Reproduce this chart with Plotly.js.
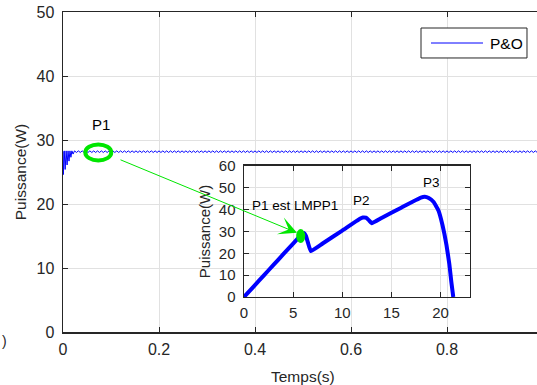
<!DOCTYPE html>
<html>
<head>
<meta charset="utf-8">
<script src="https://cdn.plot.ly/plotly-3.0.1.min.js"></script>
<style>html,body{margin:0;padding:0;background:#fff;}#chart{width:537px;height:385px;}</style>
</head>
<body>
<div id="chart"></div>
<script>
// ---- Main series: P&O power vs time ----
const seriesName = 'P&O';
const timeS = [0,0.0008,0.0025,0.0045,0.0065,0.0085,0.0105,0.0125,0.0145,0.0165,0.0185,0.021,0.024,
0.028,0.032,0.036,0.04,0.044,0.048,0.052,0.056,0.06,0.064,0.068,0.072,0.076,0.08,0.084,0.088,0.092,0.096,
0.1,0.104,0.108,0.112,0.116,0.12,0.124,0.128,0.132,0.136,0.14,0.144,0.148,0.152,0.156,0.16,0.164,0.168,0.172,0.176,0.18,0.184,0.188,0.192,0.196,
0.2,0.204,0.208,0.212,0.216,0.22,0.224,0.228,0.232,0.236,0.24,0.244,0.248,0.252,0.256,0.26,0.264,0.268,0.272,0.276,0.28,0.284,0.288,0.292,0.296,
0.3,0.304,0.308,0.312,0.316,0.32,0.324,0.328,0.332,0.336,0.34,0.344,0.348,0.352,0.356,0.36,0.364,0.368,0.372,0.376,0.38,0.384,0.388,0.392,0.396,
0.4,0.404,0.408,0.412,0.416,0.42,0.424,0.428,0.432,0.436,0.44,0.444,0.448,0.452,0.456,0.46,0.464,0.468,0.472,0.476,0.48,0.484,0.488,0.492,0.496,
0.5,0.504,0.508,0.512,0.516,0.52,0.524,0.528,0.532,0.536,0.54,0.544,0.548,0.552,0.556,0.56,0.564,0.568,0.572,0.576,0.58,0.584,0.588,0.592,0.596,
0.6,0.604,0.608,0.612,0.616,0.62,0.624,0.628,0.632,0.636,0.64,0.644,0.648,0.652,0.656,0.66,0.664,0.668,0.672,0.676,0.68,0.684,0.688,0.692,0.696,
0.7,0.704,0.708,0.712,0.716,0.72,0.724,0.728,0.732,0.736,0.74,0.744,0.748,0.752,0.756,0.76,0.764,0.768,0.772,0.776,0.78,0.784,0.788,0.792,0.796,
0.8,0.804,0.808,0.812,0.816,0.82,0.824,0.828,0.832,0.836,0.84,0.844,0.848,0.852,0.856,0.86,0.864,0.868,0.872,0.876,0.88,0.884,0.888,0.892,0.896,
0.9,0.904,0.908,0.912,0.916,0.92,0.924,0.928,0.932,0.936,0.94,0.944,0.948,0.952,0.956,0.96,0.964,0.968,0.972,0.976,0.98,0.984,0.988];
const powerW = [28.2,24.6,28.3,25.4,28.3,26.1,28.3,26.7,28.3,27.3,28.3,27.8,28.3,
28.05,28.3,28.05,28.3,28.05,28.3,28.05,28.3,28.05,28.3,28.05,28.3,28.05,28.3,28.05,28.3,28.05,28.3,
28.05,28.3,28.05,28.3,28.05,28.3,28.05,28.3,28.05,28.3,28.05,28.3,28.05,28.3,28.05,28.3,28.05,28.3,28.05,28.3,28.05,28.3,28.05,28.3,28.05,
28.3,28.05,28.3,28.05,28.3,28.05,28.3,28.05,28.3,28.05,28.3,28.05,28.3,28.05,28.3,28.05,28.3,28.05,28.3,28.05,28.3,28.05,28.3,28.05,28.3,
28.05,28.3,28.05,28.3,28.05,28.3,28.05,28.3,28.05,28.3,28.05,28.3,28.05,28.3,28.05,28.3,28.05,28.3,28.05,28.3,28.05,28.3,28.05,28.3,28.05,
28.3,28.05,28.3,28.05,28.3,28.05,28.3,28.05,28.3,28.05,28.3,28.05,28.3,28.05,28.3,28.05,28.3,28.05,28.3,28.05,28.3,28.05,28.3,28.05,28.3,
28.05,28.3,28.05,28.3,28.05,28.3,28.05,28.3,28.05,28.3,28.05,28.3,28.05,28.3,28.05,28.3,28.05,28.3,28.05,28.3,28.05,28.3,28.05,28.3,28.05,
28.3,28.05,28.3,28.05,28.3,28.05,28.3,28.05,28.3,28.05,28.3,28.05,28.3,28.05,28.3,28.05,28.3,28.05,28.3,28.05,28.3,28.05,28.3,28.05,28.3,
28.05,28.3,28.05,28.3,28.05,28.3,28.05,28.3,28.05,28.3,28.05,28.3,28.05,28.3,28.05,28.3,28.05,28.3,28.05,28.3,28.05,28.3,28.05,28.3,28.05,
28.3,28.05,28.3,28.05,28.3,28.05,28.3,28.05,28.3,28.05,28.3,28.05,28.3,28.05,28.3,28.05,28.3,28.05,28.3,28.05,28.3,28.05,28.3,28.05,28.3,
28.05,28.3,28.05,28.3,28.05,28.3,28.05,28.3,28.05,28.3,28.05,28.3,28.05,28.3,28.05,28.3,28.05,28.3,28.05,28.3,28.05,28.3,28.05];

// ---- Inset: P-V curve ----
const voltageV = [0,1,2,3,4,5,5.6,5.9,6.1,6.3,6.5,6.8,8,10,11.8,12.1,12.4,12.7,13.0,14,16,18,18.4,18.8,19.3,19.8,20.2,20.6,20.9,21.1,21.3];
const curveP  = [0,4.9,9.8,14.7,19.6,24.4,27.4,28.8,29.3,28.0,25.0,21.0,24.5,30.4,35.8,36.4,36.3,35.2,33.8,36.2,40.9,45.5,45.9,45.3,43.5,39.5,33,24,15,7,0];

// ---- Tick labels ----
const mainXTicks = [0,0.2,0.4,0.6,0.8];
const mainXLabels = ['0','0.2','0.4','0.6','0.8'];
const mainYTicks = [0,10,20,30,40,50];
const insetXTicks = [0,5,10,15,20];
const insetYTicks = [0,10,20,30,40,50,60];

// ---- Marked points ----
const p1Main = {t: 0.0735, p: 28.05};
const p1Curve = {v: 5.77, p: 27.9};
const arrowTail = {t: 0.1167, p: 27.0};
const arrowHead = {t: 0.4875, p: 15.5};
const insetLabels = [
  {text: 'P1 est LMPP1', v: 5.19, p: 42.1},
  {text: 'P2', v: 11.95, p: 44.4},
  {text: 'P3', v: 19.1, p: 52.4}
];

const FONT = 'Liberation Sans, Arial, sans-serif';
const AX = '#262626';
const GRID = '#e1e1e1';
const GREEN = '#00e600';
const BLUE = '#0000ff';

const traces = [
  {x: timeS, y: powerW, type: 'scatter', mode: 'lines', name: seriesName,
   line: {color: BLUE, width: 1}, xaxis: 'x', yaxis: 'y', showlegend: false},
  {x: voltageV, y: curveP, type: 'scatter', mode: 'lines', name: 'P-V',
   line: {color: BLUE, width: 4, shape: 'spline', smoothing: 0.3}, xaxis: 'x2', yaxis: 'y2', showlegend: false}
];

const annotations = [
  {xref: 'x', yref: 'y', x: p1Main.t + 0.006, y: 32.4, text: 'P1', showarrow: false,
   font: {family: FONT, size: 15, color: '#000'}},
  {xref: 'x', yref: 'y', x: arrowHead.t, y: arrowHead.p, axref: 'x', ayref: 'y',
   ax: arrowTail.t, ay: arrowTail.p, text: '', showarrow: true,
   arrowcolor: GREEN, arrowwidth: 1, arrowhead: 3, arrowsize: 3},
  {xref: 'x', yref: 'paper', x: 0.5, y: -0.1375, yanchor: 'middle', text: 'Temps(s)', showarrow: false,
   font: {family: FONT, size: 15.5, color: AX}},
  {xref: 'paper', yref: 'paper', x: (0 - 63) / 474, y: (332 - 341) / 320, xanchor: 'left', yanchor: 'middle',
   text: ')', showarrow: false, font: {family: FONT, size: 14, color: AX}},
  // legend text
  {xref: 'paper', yref: 'paper', x: 0.8966, y: 0.9031, xanchor: 'left', yanchor: 'middle',
   text: seriesName, showarrow: false, font: {family: FONT, size: 15.5, color: '#000'}}
];
insetLabels.forEach(l => annotations.push({xref: 'x2', yref: 'y2', x: l.v, y: l.p, text: l.text,
  showarrow: false, font: {family: FONT, size: 13.5, color: '#000'}}));

const shapes = [
  {type: 'circle', xref: 'x', yref: 'y', x0: p1Main.t - 0.027, x1: p1Main.t + 0.027,
   y0: p1Main.p - 1.25, y1: p1Main.p + 1.25, line: {color: GREEN, width: 4}},
  {type: 'circle', xref: 'x2', yref: 'y2', x0: p1Curve.v - 0.46, x1: p1Curve.v + 0.46,
   y0: p1Curve.p - 3.2, y1: p1Curve.p + 3.2, fillcolor: GREEN, line: {width: 0}},
  // legend box and sample
  {type: 'rect', xref: 'paper', yref: 'paper', x0: 0.7553, x1: 0.9789, y0: 0.8563, y1: 0.95,
   fillcolor: '#fff', line: {color: AX, width: 1}, layer: 'above'},
  {type: 'line', xref: 'paper', yref: 'paper', x0: 0.7764, x1: 0.8861, y0: 0.9031, y1: 0.9031,
   line: {color: BLUE, width: 1}, layer: 'above'}
];

const axCommon = {showline: true, linecolor: AX, linewidth: 1.5, ticks: 'inside', ticklen: 5,
  tickcolor: AX, tickwidth: 1, showgrid: true, gridcolor: GRID, gridwidth: 1, zeroline: false,
  tickfont: {family: FONT, size: 16, color: AX}};

const layout = {
  width: 537, height: 385,
  margin: {l: 63, r: 0, t: 12, b: 53},
  paper_bgcolor: '#fff', plot_bgcolor: 'rgba(0,0,0,0)',
  showlegend: false,
  xaxis: Object.assign({}, axCommon, {range: [0, 0.9875], tickvals: mainXTicks, ticktext: mainXLabels,
    mirror: 'ticks', domain: [0, 1], anchor: 'y', ticklabelstandoff: 2}),
  yaxis: Object.assign({}, axCommon, {range: [0, 50], tickvals: mainYTicks, mirror: false,
    domain: [0, 1], anchor: 'x', ticklabelstandoff: 4,
    title: {text: 'Puissance(W)', font: {family: FONT, size: 15.5, color: AX}, standoff: 6}}),
  xaxis2: Object.assign({}, axCommon, {range: [0, 23], tickvals: insetXTicks, mirror: 'ticks',
    domain: [0.3819, 0.8586], anchor: 'y2', tickfont: {family: FONT, size: 15, color: AX}, ticklabelstandoff: 2}),
  yaxis2: Object.assign({}, axCommon, {range: [0, 60], tickvals: insetYTicks, mirror: 'ticks',
    domain: [0.1094, 0.5188], anchor: 'x2', tickfont: {family: FONT, size: 15, color: AX}, ticklabelstandoff: 4,
    title: {text: 'Puissance(W)', font: {family: FONT, size: 15, color: AX}, standoff: 4}}),
  annotations: annotations,
  shapes: shapes
};

Plotly.newPlot('chart', traces, layout, {staticPlot: true, displayModeBar: false});
</script>
</body>
</html>
